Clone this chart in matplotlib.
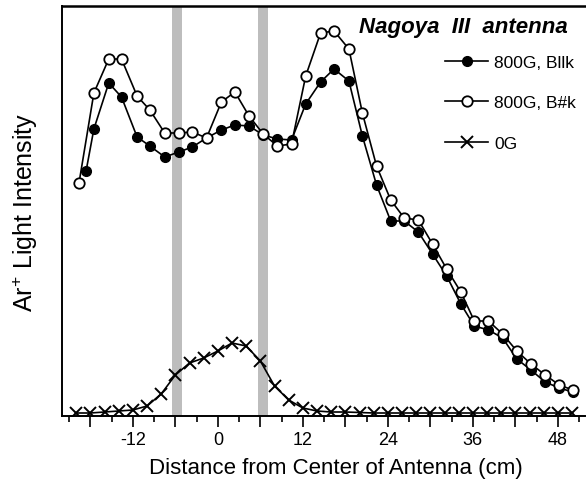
import matplotlib
matplotlib.use("Agg")
import matplotlib.pyplot as plt
from matplotlib.ticker import MultipleLocator, FuncFormatter

plt.rcParams['font.family'] = ['Liberation Sans', 'DejaVu Sans']
plt.rcParams['mathtext.default'] = 'regular'
plt.rcParams['axes.unicode_minus'] = False

# positions (cm)
x_open = [-19.6, -17.5, -15.4, -13.6, -11.4, -9.6, -7.5, -5.5, -3.6, -1.6,
          0.5, 2.4, 4.4, 6.4, 8.4, 10.4, 12.4, 14.5, 16.4, 18.5,
          20.4, 22.4, 24.4, 26.3, 28.3, 30.3, 32.3, 34.3, 36.2, 38.2,
          40.2, 42.2, 44.2, 46.2, 48.2, 50.1]
x_filled = [-18.6] + x_open[1:]
x_zero = [-20, -18, -16, -14, -12, -10, -8, -6, -4, -2,
          0, 2, 4, 6, 8, 10, 12, 14, 16, 18,
          20, 22, 24, 26, 28, 30, 32, 34, 36, 38,
          40, 42, 44, 46, 48, 50]

# intensity (arb. units)
b_par = [245, 287, 333, 319, 279, 270, 259, 264, 269, 278,
         286, 291, 290, 281, 277, 276, 312, 334, 347, 335,
         280, 231, 195, 195, 184, 162, 140, 112, 90, 86,
         78, 57, 46, 34, 28, 24]
b_perp = [233, 323, 357, 357, 320, 306, 283, 283, 284, 278,
          314, 324, 300, 282, 270, 272, 340, 383, 385, 367,
          303, 250, 216, 198, 196, 172, 147, 124, 95, 95,
          82, 65, 52, 41, 31, 26]
zero_g = [3, 3, 4, 5, 6, 10, 22, 41, 53, 58,
          65, 73, 70, 55, 30, 16, 8, 5, 4, 4,
          3.5, 3, 3, 3, 3, 3, 3, 3, 3, 3,
          3, 3, 3, 3, 3, 3]

# antenna straps (cm)
bands = [(-6.5, -5.1), (5.7, 7.1)]

fig = plt.figure(figsize=(5.86, 4.85), dpi=100)
ax = fig.add_axes([0.1058, 0.1402, 0.8922, 0.8454])

for a, b in bands:
    ax.axvspan(a, b, color='#bdbdbd', lw=0, zorder=0)

ax.plot(x_filled, b_par, '-o', color='black', lw=1.2, ms=7,
        mfc='black', mec='black', label='800G, Bllk')
ax.plot(x_open, b_perp, '-o', color='black', lw=1.2, ms=7.5,
        mfc='white', mec='black', mew=1.3, label='800G, B#k')
ax.plot(x_zero, zero_g, '-x', color='black', lw=1.2, ms=9,
        mew=1.4, label='0G')

ax.set_xlim(-22.0, 51.8)
ax.set_ylim(0, 410)

ax.spines['right'].set_visible(False)
ax.spines['top'].set_linewidth(1.8)
ax.spines['left'].set_linewidth(1.4)
ax.spines['bottom'].set_linewidth(1.4)

ax.set_yticks([])
ax.xaxis.set_major_locator(MultipleLocator(6))
ax.xaxis.set_minor_locator(MultipleLocator(3))
ax.xaxis.set_major_formatter(FuncFormatter(
    lambda v, p: '%d' % v if round(v) % 12 == 0 else ''))
ax.tick_params(axis='x', which='major', direction='out', length=8,
               width=1.2, pad=3, labelsize=13)
ax.tick_params(axis='x', which='minor', direction='out', length=4,
               width=1.2)

ax.set_xlabel('Distance from Center of Antenna (cm)', fontsize=16, labelpad=6)
ax.xaxis.label.set_x(0.524)
ax.set_ylabel('Ar$^{+}$ Light Intensity', fontsize=18, labelpad=16)

fig.text(568 / 586, 1 - 28 / 485, 'Nagoya  III  antenna', ha='right',
         va='center', fontsize=16, fontweight='bold', fontstyle='italic')

ax.legend(loc='upper left', bbox_to_anchor=(445 / 586, 1 - 56 / 485),
          bbox_transform=fig.transFigure, frameon=False, fontsize=12.5,
          handlelength=2.5, handletextpad=0.35, labelspacing=1.45,
          borderpad=0, borderaxespad=0)

fig.savefig('out.png', dpi=100)
